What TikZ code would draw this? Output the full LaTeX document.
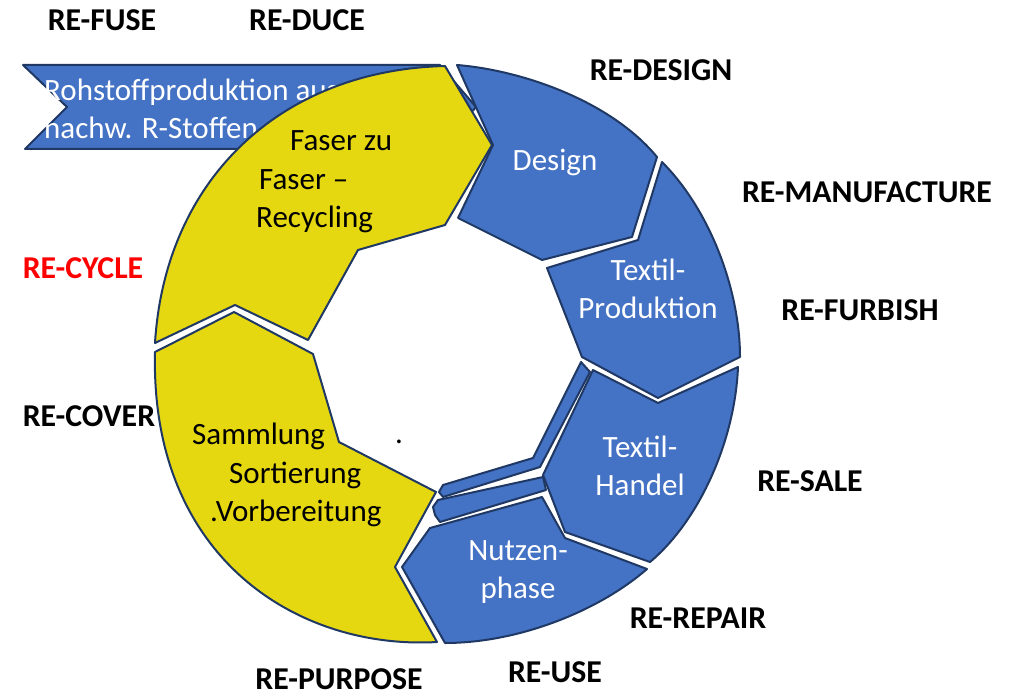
\documentclass[tikz,border=0pt]{standalone}
\usepackage{fontspec}
\setmainfont{Carlito}
\definecolor{segblue}{HTML}{4472C4}
\definecolor{segyellow}{HTML}{E5D710}
\definecolor{segline}{HTML}{1F3864}

\begin{document}
\begin{tikzpicture}[x=1pt, y=-1pt,
    seg/.style={draw=segline, line width=2pt, line join=round, fill=segblue},
    segy/.style={seg, fill=segyellow},
    txt/.style={font=\fontsize{31}{38.5}\selectfont, align=center, text=white, inner sep=0pt},
    txty/.style={txt, text=black, align=left, anchor=west},
    re/.style={font=\fontsize{31.8}{36}\selectfont\bfseries, inner sep=0pt}
  ]
  \useasboundingbox (0,0) rectangle (1012,698);

  % banner behind the ring
  \draw[seg] (23,65) -- (440,65) -- (476,107) -- (440,149) -- (25,149) -- (67,107) -- cycle;
  \node[txt, align=left, anchor=west] (rohstoff) at (44,109) {Rohstoffproduktion aus\\nachw. R-Stoffen};

  % blue segments
  \draw[seg] (457,65) -- (493,145) -- (458,218) -- (542,260) -- (632,237) -- (657,157)
    .. controls (610,100) and (520,70) .. cycle;
  \draw[seg] (547,268) -- (638,240) -- (662,162) .. controls (710,210) and (740,290) .. (740,357)
    -- (658,398) -- (582,357) -- cycle;
  \draw[seg] (593,370) -- (658,403) -- (738,367) .. controls (735,440) and (700,520) .. (650,562)
    -- (565,532) -- (543,475) -- cycle;
  \draw[seg] (581,362) -- (590,372) -- (540,467) -- (443,497) -- (439,492) -- (443,485) -- (533,458) -- cycle;
  \draw[seg] (433,507) -- (438,500) -- (543,477) -- (546,490) -- (440,522) -- (435,515) -- cycle;
  \draw[seg] (430,528) -- (542,497) -- (565,538) -- (647,569) .. controls (600,610) and (520,643) .. (445,643)
    -- (402,567) -- cycle;

  % yellow segments
  \draw[segy] (445,66) -- (492,145) -- (445,225) -- (358,250) -- (308,340) -- (235,305) -- (155,343)
    .. controls (165,180) and (280,70) .. cycle;
  \draw[segy] (155,352) -- (234,312) -- (313,354) -- (339,442) -- (436,492) -- (395,567) -- (437,642)
    .. controls (300,650) and (150,560) .. cycle;

  % segment texts
  \node[txt] (design) at (555,163) {Design};
  \node[txt] (produktion) at (648,289) {Textil-\\Produktion};
  \node[txt] (handel) at (640,466) {Textil-\\Handel};
  \node[txt] (nutzen) at (518,572) {Nutzen-\\phase};
  \node[txty] (faser) at (256,182) {\hspace*{34pt}Faser zu\\\hspace*{3pt}Faser –\\Recycling};
  \node[txty] (sammlung) at (192,475) {Sammlung\\\hspace*{37pt}Sortierung\\\hspace*{18pt}.Vorbereitung};
  \node[txt, text=black, anchor=base] (dot) at (399,443) {.};

  % RE- labels
  \foreach \t/\x/\y in {RE-FUSE/102/20, RE-DUCE/307/20, RE-DESIGN/661/70, RE-MANUFACTURE/867/192,
      RE-FURBISH/860/310, RE-COVER/89/416, RE-SALE/810/481, RE-REPAIR/698/618, RE-USE/555/672,
      RE-PURPOSE/339/679}
    \node[re] (\t) at (\x,\y) {\t};
  \node[re, text=red] (RE-CYCLE) at (83,268) {RE-CYCLE};
\end{tikzpicture}
\end{document}
